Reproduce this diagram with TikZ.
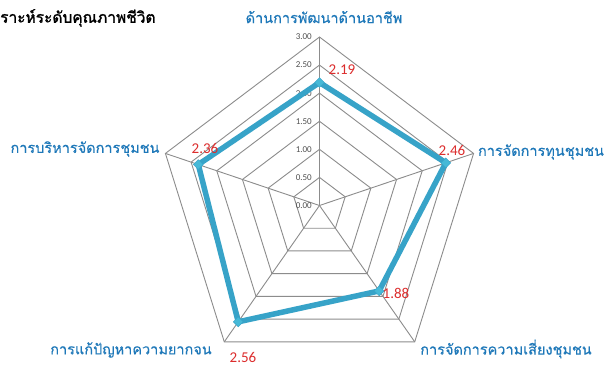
\documentclass[tikz,border=0pt]{standalone}
\usepackage{fontspec}
\setmainfont{Carlito}
\newfontfamily\thaifont[Script=Thai,FakeBold=0.4]{Loma}
\newfontfamily\thaititle[Script=Thai,FakeBold=1.5]{Loma}
\usetikzlibrary{shapes.geometric}
\definecolor{gridc}{RGB}{140,140,140}
\definecolor{serc}{RGB}{55,163,200}
\definecolor{mkc}{RGB}{70,185,215}
\definecolor{labc}{RGB}{30,120,185}
\definecolor{valc}{RGB}{220,45,45}
\definecolor{tickc}{RGB}{80,80,80}
\tikzset{
  gridline/.style={draw=gridc, line width=0.9pt},
  axlabel/.style={font=\thaifont\fontsize{14.5}{17}\selectfont, text=labc, inner sep=0pt},
  vallabel/.style={font=\fontsize{15}{17}\selectfont, text=valc, inner sep=0pt},
  ticklabel/.style={font=\fontsize{9}{10}\selectfont, text=tickc, inner sep=0pt, anchor=east},
  series/.style={draw=serc, line width=5.5pt, line join=round},
  mk/.style={diamond, fill=mkc, draw=serc, line width=0.4pt, minimum size=10pt, inner sep=0pt},
}
\begin{document}
\begin{tikzpicture}[x=1pt,y=-1pt]
\useasboundingbox (0,0) rectangle (606,365);
\fill[white] (0,0) rectangle (606,365);
% axis vertex coordinates
\foreach \k in {0,...,4}{
  \pgfmathsetmacro{\a}{90-72*\k}
  \foreach \r in {1,...,6}{
    \coordinate (g\k-\r) at ({319.5+27*\r*cos(\a)},{205.5-28.083*\r*sin(\a)});
  }
}
\coordinate (c) at (319.5,205.5);
% rings
\foreach \r in {1,...,6}{
  \draw[gridline] (g0-\r) -- (g1-\r) -- (g2-\r) -- (g3-\r) -- (g4-\r) -- cycle;
}
% spokes
\foreach \k in {0,...,4}{ \draw[gridline] (c) -- (g\k-6); }
% tick labels
\foreach \r/\t in {0/0.00,1/0.50,2/1.00,3/1.50,4/2.00,5/2.50,6/3.00}{
  \node[ticklabel] (t\r) at (312,{205.5-28.083*\r}) {\t};
}
% data
\def\vals{2.19,2.46,1.88,2.56,2.36}
\foreach \v [count=\i from 0] in \vals{
  \pgfmathsetmacro{\a}{90-72*\i}
  \coordinate (d\i) at ({319.5+54*\v*cos(\a)},{205.5-56.167*\v*sin(\a)});
}
\draw[series] (d0) -- (d1) -- (d2) -- (d3) -- (d4) -- cycle;
\foreach \i in {0,...,4}{ \node[mk] (m\i) at (d\i) {}; }
% value labels
\node[vallabel] (v0) at (342,70) {2.19};
\node[vallabel] (v1) at (452,150) {2.46};
\node[vallabel] (v2) at (396,293) {1.88};
\node[vallabel] (v3) at (243,357) {2.56};
\node[vallabel] (v4) at (205,148) {2.36};
% axis labels
\node[axlabel] (a0) at (324,17) {ด้านการพัฒนาด้านอาชีพ};
\node[axlabel] (a1) at (541,152) {การจัดการทุนชุมชน};
\node[axlabel] (a2) at (506,349) {การจัดการความเสี่ยงชุมชน};
\node[axlabel] (a3) at (131,350) {การแก้ปัญหาความยากจน};
\node[axlabel] (a4) at (85,149) {การบริหารจัดการชุมชน};
% title
\node[font=\thaititle\fontsize{15.5}{17}\selectfont, anchor=west, inner sep=0pt] (title) at (0,18) {ราะห์ระดับคุณภาพชีวิต};
\end{tikzpicture}
\end{document}
